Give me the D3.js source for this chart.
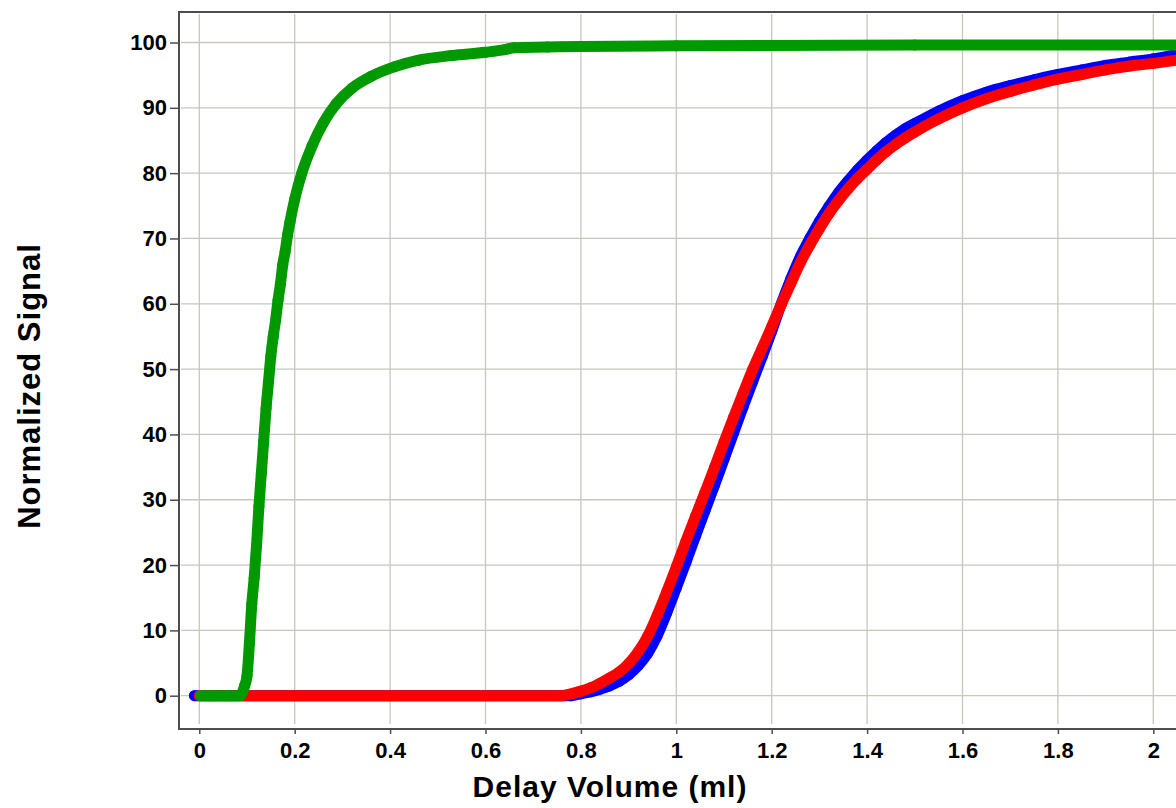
<!DOCTYPE html>
<html>
<head>
<meta charset="utf-8">
<script src="https://cdn.jsdelivr.net/npm/d3@7"></script>
<style>
  html, body { margin: 0; padding: 0; background: #fff; }
  svg { display: block; }
  text { font-family: "Liberation Sans", Arial, sans-serif; font-weight: bold; }
</style>
</head>
<body>
<svg id="chart" width="1176" height="808"></svg>
<script>
// ---- data ----
const xTicks = [0, 0.2, 0.4, 0.6, 0.8, 1, 1.2, 1.4, 1.6, 1.8, 2];
const yTicks = [0, 10, 20, 30, 40, 50, 60, 70, 80, 90, 100];
const xTitle = "Delay Volume (ml)";
const yTitle = "Normalized Signal";

const blueX = [-0.01, 0.2, 0.4, 0.6, 0.78, 0.80, 0.82, 0.84, 0.86, 0.88, 0.90, 0.92, 0.94, 0.96, 0.98, 1.00, 1.02, 1.04, 1.06, 1.08, 1.10, 1.12, 1.14, 1.16, 1.18, 1.20, 1.22, 1.24, 1.26, 1.28, 1.30, 1.32, 1.34, 1.36, 1.38, 1.40, 1.42, 1.44, 1.46, 1.48, 1.50, 1.55, 1.60, 1.65, 1.70, 1.75, 1.80, 1.85, 1.90, 1.95, 2.00, 2.05];
const blueY = [0, 0, 0, 0, 0, 0.3, 0.6, 1.0, 1.5, 2.2, 3.2, 4.6, 6.5, 9.2, 12.7, 16.5, 20.4, 24.4, 28.3, 32.2, 36.2, 40.2, 44.2, 48.1, 51.9, 55.8, 60.0, 63.8, 67.2, 70.0, 72.6, 74.9, 77.0, 78.8, 80.5, 82.0, 83.4, 84.7, 85.8, 86.8, 87.6, 89.5, 91.1, 92.4, 93.4, 94.3, 95.1, 95.8, 96.5, 97.0, 97.5, 98.2];

const redX = [0, 0.2, 0.4, 0.6, 0.76, 0.78, 0.80, 0.82, 0.84, 0.86, 0.88, 0.90, 0.92, 0.94, 0.96, 0.98, 1.00, 1.02, 1.04, 1.06, 1.08, 1.10, 1.12, 1.14, 1.16, 1.18, 1.20, 1.22, 1.24, 1.26, 1.28, 1.30, 1.32, 1.34, 1.36, 1.38, 1.40, 1.42, 1.44, 1.46, 1.48, 1.50, 1.55, 1.60, 1.65, 1.70, 1.75, 1.80, 1.85, 1.90, 1.95, 2.00, 2.05];
const redY = [0, 0, 0, 0, 0, 0.3, 0.7, 1.2, 1.9, 2.7, 3.6, 4.9, 6.7, 9.1, 12.3, 15.9, 19.7, 23.6, 27.4, 31.1, 34.9, 38.8, 42.6, 46.3, 49.9, 53.2, 56.5, 59.9, 63.1, 66.3, 69.0, 71.5, 73.8, 75.8, 77.6, 79.2, 80.6, 82.0, 83.3, 84.4, 85.4, 86.3, 88.3, 90.0, 91.4, 92.5, 93.5, 94.4, 95.1, 95.8, 96.4, 96.8, 97.3];

const greenX = [0.003, 0.03, 0.06, 0.085, 0.095, 0.100, 0.105, 0.110, 0.115, 0.120, 0.125, 0.130, 0.135, 0.140, 0.145, 0.150, 0.155, 0.160, 0.165, 0.170, 0.175, 0.180, 0.185, 0.190, 0.200, 0.215, 0.236, 0.260, 0.288, 0.320, 0.360, 0.410, 0.460, 0.530, 0.600, 0.640, 0.660, 0.730, 0.800, 1.000, 1.500, 2.050];
const greenY = [0, 0, 0, 0, 1.5, 3, 8, 14, 18, 23, 29, 34, 39, 44, 48, 52, 55, 57.5, 60.5, 63, 66, 68, 70.5, 72.5, 76, 80, 84.1, 87.7, 90.7, 93, 94.8, 96.3, 97.3, 98, 98.5, 98.9, 99.2, 99.3, 99.4, 99.5, 99.6, 99.6];

const seriesNames = ["blue", "red", "green"];
const seriesColors = ["#0000ff", "#ff0000", "#009900"];

// ---- build ----
const series = [
  { name: seriesNames[0], color: seriesColors[0], pts: blueX.map((x, i) => [x, blueY[i]]) },
  { name: seriesNames[1], color: seriesColors[1], pts: redX.map((x, i) => [x, redY[i]]) },
  { name: seriesNames[2], color: seriesColors[2], pts: greenX.map((x, i) => [x, greenY[i]]) }
];

const svg = d3.select("#chart");
const W = 1176, H = 808;
const axisLeftX = 179, axisBottomY = 729, frameTop = 12;

const x = d3.scaleLinear().domain([0, 2]).range([199.3, 1153.3]);
const y = d3.scaleLinear().domain([0, 100]).range([695.7, 42.5]);

// gridlines
const grid = svg.append("g").attr("stroke", "#c9c6bf").attr("stroke-width", 1.3);
grid.selectAll("line.v").data(xTicks).join("line")
  .attr("class", "v")
  .attr("x1", d => x(d)).attr("x2", d => x(d))
  .attr("y1", frameTop + 2).attr("y2", axisBottomY - 5);
grid.selectAll("line.h").data(yTicks).join("line")
  .attr("class", "h")
  .attr("x1", axisLeftX + 2).attr("x2", W)
  .attr("y1", d => y(d)).attr("y2", d => y(d));

// series
svg.append("clipPath").attr("id", "plotclip")
  .append("rect").attr("x", axisLeftX + 1).attr("y", frameTop + 1)
  .attr("width", W - axisLeftX).attr("height", axisBottomY - frameTop - 2);

const line = d3.line().x(d => x(d[0])).y(d => y(d[1])).curve(d3.curveMonotoneX);
const plot = svg.append("g").attr("clip-path", "url(#plotclip)");
series.forEach(s => {
  const g = plot.append("g");
  g.append("path").datum(s.pts)
    .attr("d", line)
    .attr("fill", "none")
    .attr("stroke", s.color)
    .attr("stroke-width", 11)
    .attr("stroke-linecap", "round")
    .attr("stroke-linejoin", "round");
  g.selectAll("circle").data(s.pts).join("circle")
    .attr("cx", d => x(d[0])).attr("cy", d => y(d[1]))
    .attr("r", 5.5).attr("fill", s.color);
});

// axes
const axisColor = "#4d4d4d";
const xAxis = svg.append("g").attr("transform", `translate(0,${axisBottomY})`)
  .call(d3.axisBottom(x).tickValues(xTicks).tickSize(5).tickPadding(8).tickFormat(d3.format("~g")));
const yAxis = svg.append("g").attr("transform", `translate(${axisLeftX},0)`)
  .call(d3.axisLeft(y).tickValues(yTicks).tickSize(9).tickPadding(3).tickFormat(d3.format("~g")));
[xAxis, yAxis].forEach(a => {
  a.select(".domain").remove();
  a.selectAll(".tick line").attr("stroke", axisColor).attr("stroke-width", 1.5);
  a.selectAll(".tick text").attr("fill", "#000").style("font-size", "22px")
    .style("font-family", "'Liberation Sans', Arial, sans-serif").style("font-weight", "bold");
});

// frame lines
svg.append("line").attr("x1", axisLeftX).attr("x2", axisLeftX)
  .attr("y1", frameTop).attr("y2", axisBottomY + 1)
  .attr("stroke", axisColor).attr("stroke-width", 2);
svg.append("line").attr("x1", axisLeftX - 1).attr("x2", W)
  .attr("y1", axisBottomY).attr("y2", axisBottomY)
  .attr("stroke", axisColor).attr("stroke-width", 2);
svg.append("line").attr("x1", axisLeftX - 1).attr("x2", W)
  .attr("y1", frameTop).attr("y2", frameTop)
  .attr("stroke", axisColor).attr("stroke-width", 2);

// titles
svg.append("text").attr("x", 610).attr("y", 797)
  .attr("text-anchor", "middle").style("font-size", "30px").style("letter-spacing", "1px")
  .attr("fill", "#000").text(xTitle);
svg.append("text").attr("transform", "translate(40,386) rotate(-90)")
  .attr("text-anchor", "middle").style("font-size", "31px").style("letter-spacing", "1px")
  .attr("fill", "#000").text(yTitle);
</script>
</body>
</html>
